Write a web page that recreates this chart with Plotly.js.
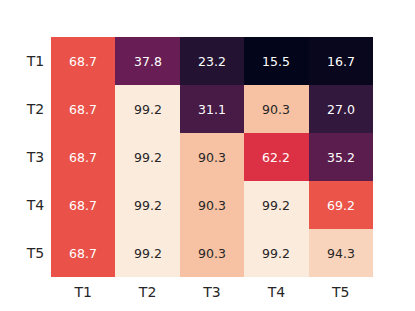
<!DOCTYPE html>
<html>
<head>
<meta charset="utf-8">
<script src="https://cdn.plot.ly/plotly-3.0.1.min.js"></script>
<style>html,body{margin:0;padding:0;background:#fff;}#chart{width:415px;height:311px;}</style>
</head>
<body>
<div id="chart"></div>
<script>
var xLabels = ["T1", "T2", "T3", "T4", "T5"];
var yLabels = ["T1", "T2", "T3", "T4", "T5"];
var values = [
  [68.7, 37.8, 23.2, 15.5, 16.7],
  [68.7, 99.2, 31.1, 90.3, 27.0],
  [68.7, 99.2, 90.3, 62.2, 35.2],
  [68.7, 99.2, 90.3, 99.2, 69.2],
  [68.7, 99.2, 90.3, 99.2, 94.3]
];
var rocket = [
  [0.0, "#03051a"],
  [1/7, "#35193e"],
  [2/7, "#701f57"],
  [3/7, "#ad1759"],
  [4/7, "#e13342"],
  [5/7, "#f37651"],
  [6/7, "#f6b48f"],
  [1.0, "#faebdd"]
];

function hexToRgb(h){return [parseInt(h.substr(1,2),16),parseInt(h.substr(3,2),16),parseInt(h.substr(5,2),16)];}
function colorAt(t){
  for (var i=0;i<rocket.length-1;i++){
    var a=rocket[i], b=rocket[i+1];
    if (t<=b[0]){
      var f=(t-a[0])/(b[0]-a[0]);
      var ca=hexToRgb(a[1]), cb=hexToRgb(b[1]);
      return [0,1,2].map(function(k){return ca[k]+(cb[k]-ca[k])*f;});
    }
  }
  return hexToRgb(rocket[rocket.length-1][1]);
}
function lum(c){
  var l=c.map(function(v){v/=255;return v<=0.03928?v/12.92:Math.pow((v+0.055)/1.055,2.4);});
  return 0.2126*l[0]+0.7152*l[1]+0.0722*l[2];
}
var flat=[].concat.apply([],values);
var zmin=Math.min.apply(null,flat), zmax=Math.max.apply(null,flat);
var annotations=[];
values.forEach(function(row,i){
  row.forEach(function(v,j){
    var c=colorAt((v-zmin)/(zmax-zmin));
    annotations.push({
      x:xLabels[j], y:yLabels[i], xref:"x", yref:"y",
      text:v.toFixed(1), showarrow:false,
      font:{family:"DejaVu Sans", size:12.5, color: lum(c)>0.408 ? "#262626" : "#ffffff"}
    });
  });
});

var trace={
  type:"heatmap", x:xLabels, y:yLabels, z:values,
  colorscale:rocket, zmin:zmin, zmax:zmax, showscale:false,
  hoverinfo:"skip"
};
var layout={
  width:415, height:311,
  margin:{l:51, r:42, t:37, b:34, pad:0},
  paper_bgcolor:"#ffffff", plot_bgcolor:"#ffffff",
  font:{family:"DejaVu Sans", size:14, color:"#262626"},
  xaxis:{type:"category", showgrid:false, zeroline:false, showline:false,
         ticks:"outside", ticklen:2, tickcolor:"rgba(0,0,0,0)",
         tickfont:{family:"DejaVu Sans", size:14, color:"#262626"}},
  yaxis:{type:"category", autorange:"reversed", showgrid:false, zeroline:false, showline:false,
         ticks:"outside", ticklen:3, tickcolor:"rgba(0,0,0,0)",
         tickfont:{family:"DejaVu Sans", size:14, color:"#262626"}},
  annotations:annotations
};
Plotly.newPlot("chart",[trace],layout,{displayModeBar:false, staticPlot:true});
</script>
</body>
</html>
